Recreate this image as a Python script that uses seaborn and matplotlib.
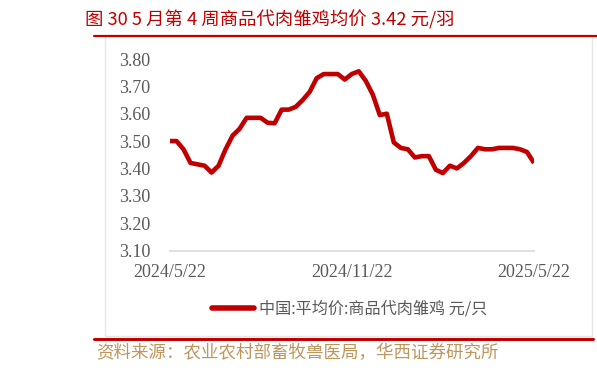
import matplotlib
matplotlib.use("Agg")
import matplotlib.pyplot as plt
from matplotlib.lines import Line2D
from matplotlib.patches import Rectangle
import seaborn as sns
import pandas as pd

# ---- data ----
title_text = "图 30 5 月第 4 周商品代肉雏鸡均价 3.42 元/羽"
source_text = "资料来源：农业农村部畜牧兽医局，华西证券研究所"
series_name = "中国:平均价:商品代肉雏鸡 元/只"
week_index = list(range(53))
prices = [3.50, 3.50, 3.47, 3.42, 3.415, 3.41, 3.385, 3.41, 3.47, 3.52,
          3.545, 3.585, 3.585, 3.585, 3.567, 3.565, 3.615, 3.615, 3.625, 3.65,
          3.68, 3.73, 3.745, 3.745, 3.745, 3.725, 3.745, 3.755, 3.72, 3.67,
          3.595, 3.60, 3.495, 3.475, 3.47, 3.44, 3.445, 3.445, 3.395, 3.383,
          3.41, 3.40, 3.42, 3.445, 3.475, 3.47, 3.47, 3.475, 3.475, 3.475,
          3.47, 3.46, 3.42]
xtick_pos = [0, 26, 52]
xtick_labels = ["2024/5/22", "2024/11/22", "2025/5/22"]
ytick_vals = [3.10, 3.20, 3.30, 3.40, 3.50, 3.60, 3.70, 3.80]

df = pd.DataFrame({"week": week_index, "price": prices, "series": series_name})

sns.set_theme(style="white")
plt.rcParams['font.family'] = ['Noto Sans CJK SC', 'DejaVu Sans']

W, H = 597, 371
fig = plt.figure(figsize=(W / 100, H / 100), dpi=100)
ax = fig.add_axes([169.5 / W, 1 - 250.5 / H, (534 - 169.5) / W, (250.5 - 59) / H])

red = "#C00000"
grey_txt = "#595959"
axis_grey = "#D9D9D9"

sns.lineplot(data=df, x="week", y="price", hue="series", palette=[red],
             linewidth=3.3, ax=ax, legend=True)
for ln in ax.lines:
    ln.set_solid_joinstyle("round")
    ln.set_solid_capstyle("butt")

ax.set_xlim(0, 52)
ax.set_ylim(3.10, 3.80)
ax.set_xticks(xtick_pos)
ax.set_xticklabels(xtick_labels, family="Liberation Serif", fontsize=13, color=grey_txt)
ax.set_yticks(ytick_vals)
ax.set_yticklabels([f"{v:.2f}" for v in ytick_vals], family="Liberation Serif",
                   fontsize=13, color=grey_txt)
ax.set_xlabel("")
ax.set_ylabel("")
for s in ["top", "right", "left"]:
    ax.spines[s].set_visible(False)
ax.spines["bottom"].set_color(axis_grey)
ax.spines["bottom"].set_linewidth(1.2)
ax.tick_params(axis="x", length=4, width=1.2, color=axis_grey, pad=6, direction="out")
ax.tick_params(axis="y", length=0, pad=14)
ax.grid(False)

# legend
h, l = ax.get_legend_handles_labels()
ax.get_legend().remove()
leg = fig.legend(h, l, loc="center", bbox_to_anchor=(350 / W, 1 - 309 / H),
                 frameon=False, fontsize=11.6, handlelength=2.6, handletextpad=0.3,
                 labelcolor=grey_txt)
for lh in leg.get_lines():
    lh.set_linewidth(4)
    lh.set_solid_capstyle("round")

# frame
fig.add_artist(Rectangle((105 / W, 1 - 336 / H), (592 - 105) / W, (336 - 36) / H,
                         transform=fig.transFigure, fill=False,
                         edgecolor="#E6E6E6", linewidth=1))
fig.add_artist(Line2D([94 / W, 1.0], [1 - 35.5 / H, 1 - 35.5 / H],
                      transform=fig.transFigure, color=red, linewidth=1.6))
fig.add_artist(Line2D([94 / W, 593 / W], [1 - 338.5 / H, 1 - 338.5 / H],
                      transform=fig.transFigure, color=red, linewidth=2.2))

# title and source
fig.text(85 / W, 1 - 20 / H, title_text, color=red, fontsize=13.2,
         ha="left", va="center")
fig.text(96 / W, 1 - 353 / H, source_text, color="#BE955A", fontsize=12.6,
         ha="left", va="center")

fig.savefig("out.png", dpi=100)
